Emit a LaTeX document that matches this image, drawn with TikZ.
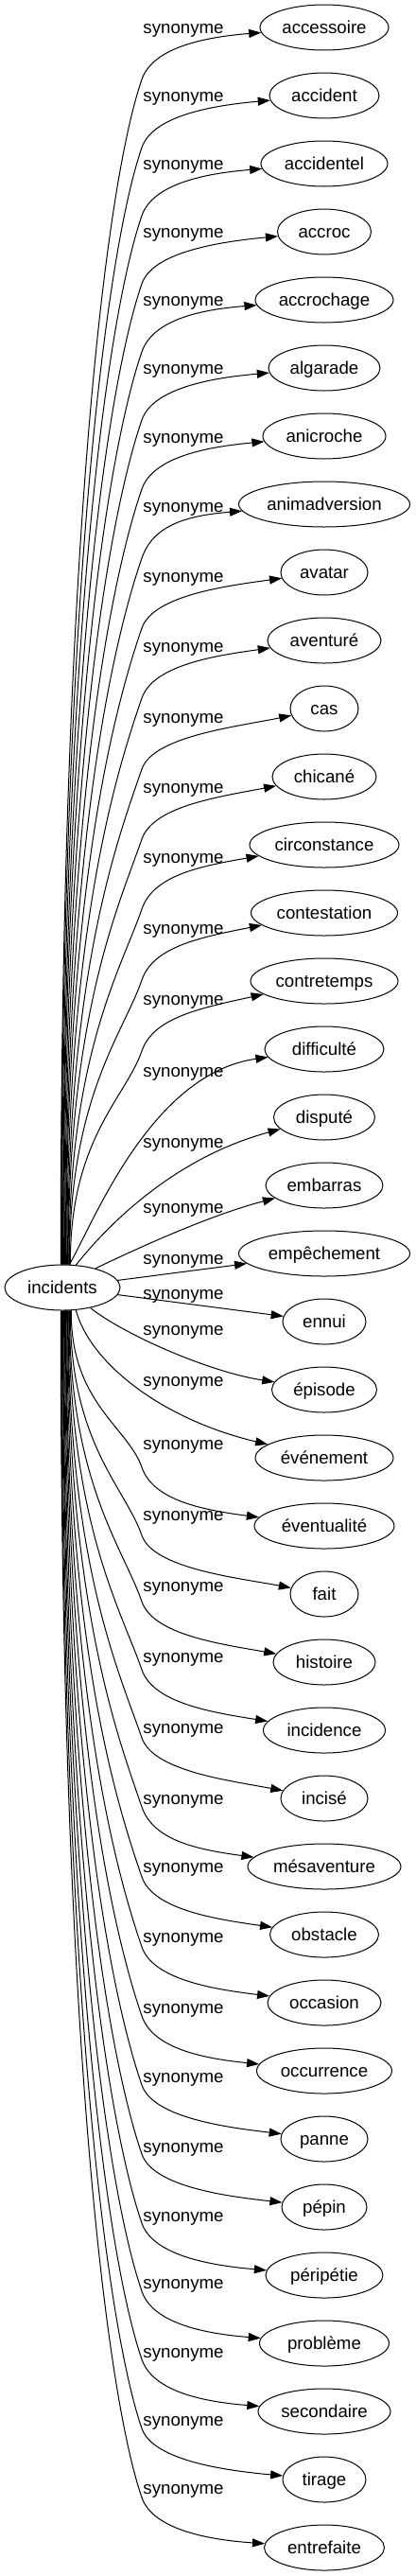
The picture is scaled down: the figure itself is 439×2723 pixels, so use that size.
\documentclass[tikz,border=0pt]{standalone}
\usepackage{fontspec}
\setmainfont{Liberation Sans}
\usetikzlibrary{arrows.meta,shapes.geometric}
\begin{document}
\begin{tikzpicture}[x=0.75pt,y=-0.75pt,
  word/.style={ellipse,draw,line width=0.75pt,minimum height=36pt,inner sep=0pt,
    text height=11pt,text depth=2pt,font=\fontsize{14pt}{16pt}\selectfont},
  lbl/.style={inner sep=0pt,text height=11pt,text depth=2pt,font=\fontsize{14pt}{16pt}\selectfont},
  edge/.style={line width=0.75pt,-{Triangle[length=9.75pt,width=6.75pt]}}]
\useasboundingbox (0,0) rectangle (439,2723);
\node[word,minimum width=91.5pt] (inc) at (66,1361) {incidents};
\foreach \i/\w/\t in {0/136/accessoire,1/116/accident,2/134/accidentel,3/99/accroc,
  4/146/accrochage,5/118/algarade,6/130/anicroche,7/181/animadversion,8/92/avatar,
  9/120/aventuré,10/72/cas,11/110/chicané,12/158/circonstance,13/155/contestation,
  14/156/contretemps,15/126/difficulté,16/107/disputé,17/124/embarras,
  18/181/empêchement,19/88/ennui,20/111/épisode,21/146/événement,22/148/éventualité,
  23/72/fait,24/108/histoire,25/129/incidence,26/92/incisé,27/162/mésaventure,
  28/115/obstacle,29/120/occasion,30/143/occurrence,31/92/panne,32/90/pépin,
  33/124/péripétie,34/137/problème,35/140/secondaire,36/88/tirage,37/127/entrefaite}
  {\node[word,minimum width=\w*0.75pt] (t\i) at (343,{29+72*\i}) {\t};}
\foreach \j/\lab in {0/29,1/101,2/173,3/245,4/317,5/389,6/462,7/535,8/609,9/683,
  10/758,11/832,12/906,13/981,14/1056,15/1132,16/1207,17/1276,18/1330,19/1367,
  20/1405,21/1459,22/1526,23/1601,24/1676,25/1751,26/1826,27/1901,28/1973,29/2047,
  30/2122,31/2195,32/2269,33/2342,34/2413,35/2486,36/2558,37/2630}
  {\node[lbl] (l\j) at (194,\lab) {synonyme};}
% upper edges
\foreach \i/\lab/\w in {0/29/136,1/101/116,2/173/134,3/245/99,4/317/146,5/389/118,
  6/462/130,7/535/181,8/609/92,9/683/120,10/758/72,11/832/110,12/906/158,
  13/981/155,14/1056/156}{
  \pgfmathsetmacro\kk{\lab+55}
  \pgfmathsetmacro\hh{1338-\kk}
  \pgfmathsetmacro\ss{sqrt(\hh/1254)}
  \pgfmathsetmacro\xb{64+0.7*\i}
  \pgfmathtruncatemacro\ang{atan2(23.5*sqrt(1-((\xb-66)/61)^2),\xb-66)}
  \pgfmathsetmacro\pa{\kk+0.41*\hh}
  \pgfmathsetmacro\pbx{150-40*\ss}
  \pgfmathsetmacro\pby{\kk+116*\ss}
  \pgfmathsetmacro\ca{\kk-35}
  \pgfmathsetmacro\cbx{343-\w/2-55}
  \pgfmathsetmacro\cby{\kk-45}
  \draw[edge] (inc.\ang) .. controls (\xb,\pa) and (\pbx,\pby) .. (150,\kk)
     .. controls (162,\ca) and (\cbx,\cby) .. (t\i);
}
% middle edges
\draw[edge] (inc.73) .. controls (100,1290) and (160,1135) .. (t15);
\draw[edge] (inc.59) .. controls (110,1300) and (180,1225) .. (t16);
\draw[edge] (inc.30) .. controls (140,1322) and (220,1285) .. (t17);
\draw[edge] (inc) -- (t18);
\draw[edge] (inc) -- (t19);
\draw[edge] (inc.-36) .. controls (130,1410) and (220,1450) .. (t20);
\draw[edge] (inc.-59) .. controls (95,1440) and (170,1500) .. (t21);
% lower edges
\foreach \i/\dd/\w in {22/62/148,23/62/72,24/64/108,25/64/129,26/64/92,27/63/162,
  28/61/115,29/59/120,30/58/143,31/57/92,32/56/90,33/55/124,34/55/137,35/55/140,
  36/54/88,37/53/127}{
  \pgfmathsetmacro\yy{29+72*\i}
  \pgfmathsetmacro\kk{\yy-\dd}
  \pgfmathsetmacro\hh{\kk-1384}
  \pgfmathsetmacro\ss{sqrt(\hh/1254)}
  \pgfmathsetmacro\xb{64+0.7*(37-\i)}
  \pgfmathtruncatemacro\ang{-atan2(23.5*sqrt(1-((\xb-66)/61)^2),\xb-66)}
  \pgfmathsetmacro\pa{\kk-0.41*\hh}
  \pgfmathsetmacro\pbx{150-40*\ss}
  \pgfmathsetmacro\pby{\kk-116*\ss}
  \pgfmathsetmacro\ca{\kk+35}
  \pgfmathsetmacro\cbx{343-\w/2-55}
  \pgfmathsetmacro\cby{\kk+45}
  \draw[edge] (inc.\ang) .. controls (\xb,\pa) and (\pbx,\pby) .. (150,\kk)
     .. controls (162,\ca) and (\cbx,\cby) .. (t\i);
}
\end{tikzpicture}
\end{document}
